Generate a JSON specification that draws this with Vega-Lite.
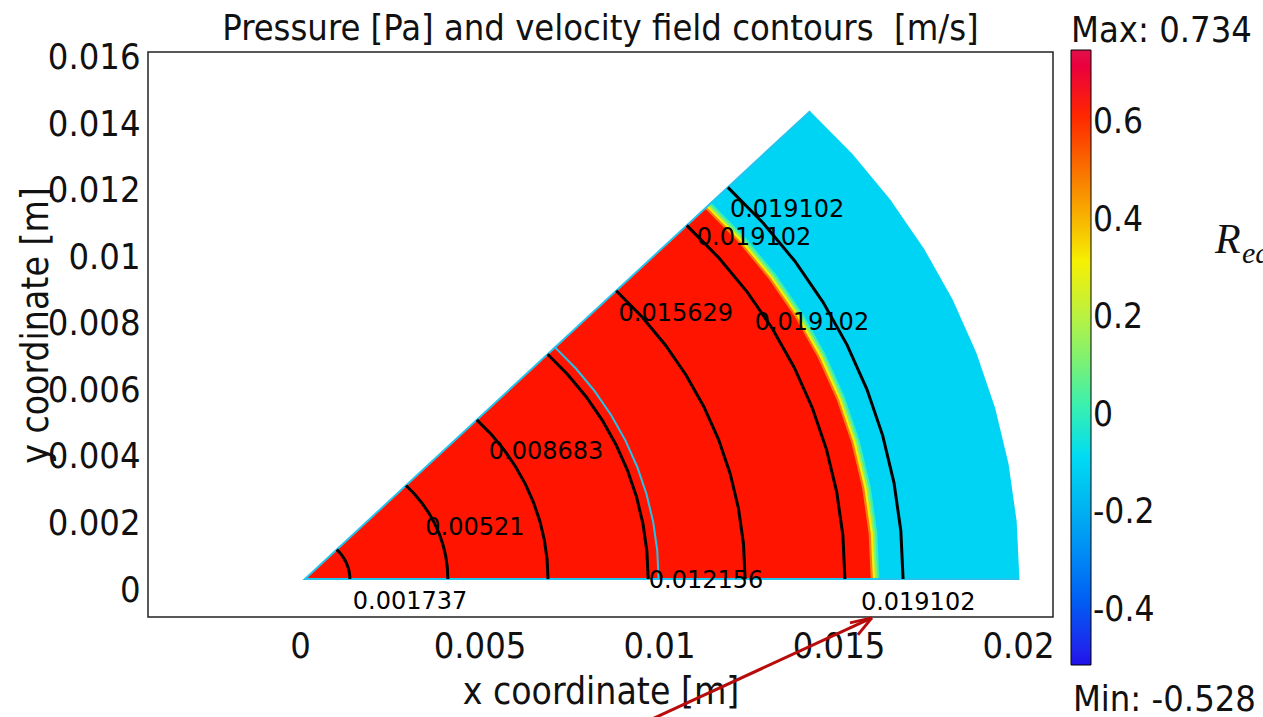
{
  "$schema": "https://vega.github.io/schema/vega-lite/v6.json",
  "width": 905,
  "height": 565,
  "autosize": {"type": "none"},
  "padding": {"left": 148, "top": 52, "right": 210, "bottom": 100},
  "background": "white",
  "title": {
    "text": "Pressure [Pa] and velocity field contours \u00a0[m/s]",
    "font": "DejaVu Sans Condensed, DejaVu Sans",
    "fontSize": 36,
    "fontWeight": "normal",
    "color": "#111",
    "anchor": "middle",
    "frame": "group",
    "baseline": "alphabetic",
    "offset": 10,
    "dy": 72,
    "limit": 1000
  },
  "datasets": {
    "yticks": [
      {"y": 0}, {"y": 0.002}, {"y": 0.004}, {"y": 0.006}, {"y": 0.008},
      {"y": 0.01}, {"y": 0.012}, {"y": 0.014}, {"y": 0.016}
    ],
    "sectors": [
      {"g": "s1", "v": -0.12, "x": 0, "y": 0},
      {"g": "s1", "v": -0.12, "x": 0.014071, "y": 0.014071},
      {"g": "s1", "v": -0.12, "x": 0.015244, "y": 0.012792},
      {"g": "s1", "v": -0.12, "x": 0.016301, "y": 0.011414},
      {"g": "s1", "v": -0.12, "x": 0.017234, "y": 0.00995},
      {"g": "s1", "v": -0.12, "x": 0.018036, "y": 0.00841},
      {"g": "s1", "v": -0.12, "x": 0.0187, "y": 0.006806},
      {"g": "s1", "v": -0.12, "x": 0.019222, "y": 0.005151},
      {"g": "s1", "v": -0.12, "x": 0.019598, "y": 0.003456},
      {"g": "s1", "v": -0.12, "x": 0.019824, "y": 0.001734},
      {"g": "s1", "v": -0.12, "x": 0.0199, "y": 0},
      {"g": "s2", "v": 0.0, "x": 0, "y": 0},
      {"g": "s2", "v": 0.0, "x": 0.011314, "y": 0.011314},
      {"g": "s2", "v": 0.0, "x": 0.012257, "y": 0.010285},
      {"g": "s2", "v": 0.0, "x": 0.013106, "y": 0.009177},
      {"g": "s2", "v": 0.0, "x": 0.013856, "y": 0.008},
      {"g": "s2", "v": 0.0, "x": 0.014501, "y": 0.006762},
      {"g": "s2", "v": 0.0, "x": 0.015035, "y": 0.005472},
      {"g": "s2", "v": 0.0, "x": 0.015455, "y": 0.004141},
      {"g": "s2", "v": 0.0, "x": 0.015757, "y": 0.002778},
      {"g": "s2", "v": 0.0, "x": 0.015939, "y": 0.001395},
      {"g": "s2", "v": 0.0, "x": 0.016, "y": 0},
      {"g": "s3", "v": 0.12, "x": 0, "y": 0},
      {"g": "s3", "v": 0.12, "x": 0.011271, "y": 0.011271},
      {"g": "s3", "v": 0.12, "x": 0.01221, "y": 0.010246},
      {"g": "s3", "v": 0.12, "x": 0.013057, "y": 0.009143},
      {"g": "s3", "v": 0.12, "x": 0.013805, "y": 0.00797},
      {"g": "s3", "v": 0.12, "x": 0.014447, "y": 0.006737},
      {"g": "s3", "v": 0.12, "x": 0.014979, "y": 0.005452},
      {"g": "s3", "v": 0.12, "x": 0.015397, "y": 0.004126},
      {"g": "s3", "v": 0.12, "x": 0.015698, "y": 0.002768},
      {"g": "s3", "v": 0.12, "x": 0.015879, "y": 0.001389},
      {"g": "s3", "v": 0.12, "x": 0.01594, "y": 0},
      {"g": "s4", "v": 0.3, "x": 0, "y": 0},
      {"g": "s4", "v": 0.3, "x": 0.011229, "y": 0.011229},
      {"g": "s4", "v": 0.3, "x": 0.012165, "y": 0.010208},
      {"g": "s4", "v": 0.3, "x": 0.013008, "y": 0.009108},
      {"g": "s4", "v": 0.3, "x": 0.013753, "y": 0.00794},
      {"g": "s4", "v": 0.3, "x": 0.014392, "y": 0.006711},
      {"g": "s4", "v": 0.3, "x": 0.014922, "y": 0.005431},
      {"g": "s4", "v": 0.3, "x": 0.015339, "y": 0.00411},
      {"g": "s4", "v": 0.3, "x": 0.015639, "y": 0.002758},
      {"g": "s4", "v": 0.3, "x": 0.015819, "y": 0.001384},
      {"g": "s4", "v": 0.3, "x": 0.01588, "y": 0},
      {"g": "s5", "v": 0.45, "x": 0, "y": 0},
      {"g": "s5", "v": 0.45, "x": 0.011186, "y": 0.011186},
      {"g": "s5", "v": 0.45, "x": 0.012119, "y": 0.010169},
      {"g": "s5", "v": 0.45, "x": 0.012959, "y": 0.009074},
      {"g": "s5", "v": 0.45, "x": 0.013701, "y": 0.00791},
      {"g": "s5", "v": 0.45, "x": 0.014338, "y": 0.006686},
      {"g": "s5", "v": 0.45, "x": 0.014866, "y": 0.005411},
      {"g": "s5", "v": 0.45, "x": 0.015281, "y": 0.004095},
      {"g": "s5", "v": 0.45, "x": 0.01558, "y": 0.002747},
      {"g": "s5", "v": 0.45, "x": 0.01576, "y": 0.001379},
      {"g": "s5", "v": 0.45, "x": 0.01582, "y": 0},
      {"g": "s6", "v": 0.611, "x": 0, "y": 0},
      {"g": "s6", "v": 0.611, "x": 0.011144, "y": 0.011144},
      {"g": "s6", "v": 0.611, "x": 0.012073, "y": 0.01013},
      {"g": "s6", "v": 0.611, "x": 0.01291, "y": 0.00904},
      {"g": "s6", "v": 0.611, "x": 0.013649, "y": 0.00788},
      {"g": "s6", "v": 0.611, "x": 0.014283, "y": 0.006661},
      {"g": "s6", "v": 0.611, "x": 0.01481, "y": 0.00539},
      {"g": "s6", "v": 0.611, "x": 0.015223, "y": 0.004079},
      {"g": "s6", "v": 0.611, "x": 0.015521, "y": 0.002737},
      {"g": "s6", "v": 0.611, "x": 0.0157, "y": 0.001374},
      {"g": "s6", "v": 0.611, "x": 0.01576, "y": 0}
    ],
    "lines": [
      {"g": "edge", "i": 0, "x": 0.0199, "y": 0},
      {"g": "edge", "i": 1, "x": 0, "y": 0},
      {"g": "edge", "i": 2, "x": 0.014071, "y": 0.014071},
      {"g": "c8", "i": 0, "x": 0.006965, "y": 0.006965},
      {"g": "c8", "i": 1, "x": 0.007545, "y": 0.006331},
      {"g": "c8", "i": 2, "x": 0.008069, "y": 0.00565},
      {"g": "c8", "i": 3, "x": 0.00853, "y": 0.004925},
      {"g": "c8", "i": 4, "x": 0.008927, "y": 0.004163},
      {"g": "c8", "i": 5, "x": 0.009256, "y": 0.003369},
      {"g": "c8", "i": 6, "x": 0.009514, "y": 0.002549},
      {"g": "c8", "i": 7, "x": 0.0097, "y": 0.00171},
      {"g": "c8", "i": 8, "x": 0.009812, "y": 0.000859},
      {"g": "c8", "i": 9, "x": 0.00985, "y": 0},
      {"g": "c1", "i": 0, "x": 0.000884, "y": 0.000884},
      {"g": "c1", "i": 1, "x": 0.000958, "y": 0.000803},
      {"g": "c1", "i": 2, "x": 0.001024, "y": 0.000717},
      {"g": "c1", "i": 3, "x": 0.001083, "y": 0.000625},
      {"g": "c1", "i": 4, "x": 0.001133, "y": 0.000528},
      {"g": "c1", "i": 5, "x": 0.001175, "y": 0.000428},
      {"g": "c1", "i": 6, "x": 0.001207, "y": 0.000324},
      {"g": "c1", "i": 7, "x": 0.001231, "y": 0.000217},
      {"g": "c1", "i": 8, "x": 0.001245, "y": 0.000109},
      {"g": "c1", "i": 9, "x": 0.00125, "y": 0},
      {"g": "c2", "i": 0, "x": 0.002814, "y": 0.002814},
      {"g": "c2", "i": 1, "x": 0.003049, "y": 0.002558},
      {"g": "c2", "i": 2, "x": 0.00326, "y": 0.002283},
      {"g": "c2", "i": 3, "x": 0.003447, "y": 0.00199},
      {"g": "c2", "i": 4, "x": 0.003607, "y": 0.001682},
      {"g": "c2", "i": 5, "x": 0.00374, "y": 0.001361},
      {"g": "c2", "i": 6, "x": 0.003844, "y": 0.00103},
      {"g": "c2", "i": 7, "x": 0.00392, "y": 0.000691},
      {"g": "c2", "i": 8, "x": 0.003965, "y": 0.000347},
      {"g": "c2", "i": 9, "x": 0.00398, "y": 0},
      {"g": "c3", "i": 0, "x": 0.004787, "y": 0.004787},
      {"g": "c3", "i": 1, "x": 0.005186, "y": 0.004352},
      {"g": "c3", "i": 2, "x": 0.005546, "y": 0.003883},
      {"g": "c3", "i": 3, "x": 0.005863, "y": 0.003385},
      {"g": "c3", "i": 4, "x": 0.006136, "y": 0.002861},
      {"g": "c3", "i": 5, "x": 0.006362, "y": 0.002315},
      {"g": "c3", "i": 6, "x": 0.006539, "y": 0.001752},
      {"g": "c3", "i": 7, "x": 0.006667, "y": 0.001176},
      {"g": "c3", "i": 8, "x": 0.006744, "y": 0.00059},
      {"g": "c3", "i": 9, "x": 0.00677, "y": 0},
      {"g": "c4", "i": 0, "x": 0.00676, "y": 0.00676},
      {"g": "c4", "i": 1, "x": 0.007323, "y": 0.006145},
      {"g": "c4", "i": 2, "x": 0.007831, "y": 0.005483},
      {"g": "c4", "i": 3, "x": 0.008279, "y": 0.00478},
      {"g": "c4", "i": 4, "x": 0.008664, "y": 0.00404},
      {"g": "c4", "i": 5, "x": 0.008983, "y": 0.00327},
      {"g": "c4", "i": 6, "x": 0.009234, "y": 0.002474},
      {"g": "c4", "i": 7, "x": 0.009415, "y": 0.00166},
      {"g": "c4", "i": 8, "x": 0.009524, "y": 0.000833},
      {"g": "c4", "i": 9, "x": 0.00956, "y": 0},
      {"g": "c5", "i": 0, "x": 0.008669, "y": 0.008669},
      {"g": "c5", "i": 1, "x": 0.009392, "y": 0.007881},
      {"g": "c5", "i": 2, "x": 0.010043, "y": 0.007032},
      {"g": "c5", "i": 3, "x": 0.010617, "y": 0.00613},
      {"g": "c5", "i": 4, "x": 0.011111, "y": 0.005181},
      {"g": "c5", "i": 5, "x": 0.011521, "y": 0.004193},
      {"g": "c5", "i": 6, "x": 0.011842, "y": 0.003173},
      {"g": "c5", "i": 7, "x": 0.012074, "y": 0.002129},
      {"g": "c5", "i": 8, "x": 0.012213, "y": 0.001069},
      {"g": "c5", "i": 9, "x": 0.01226, "y": 0},
      {"g": "c6", "i": 0, "x": 0.010635, "y": 0.010635},
      {"g": "c6", "i": 1, "x": 0.011521, "y": 0.009668},
      {"g": "c6", "i": 2, "x": 0.01232, "y": 0.008627},
      {"g": "c6", "i": 3, "x": 0.013025, "y": 0.00752},
      {"g": "c6", "i": 4, "x": 0.013631, "y": 0.006356},
      {"g": "c6", "i": 5, "x": 0.014133, "y": 0.005144},
      {"g": "c6", "i": 6, "x": 0.014528, "y": 0.003893},
      {"g": "c6", "i": 7, "x": 0.014812, "y": 0.002612},
      {"g": "c6", "i": 8, "x": 0.014983, "y": 0.001311},
      {"g": "c6", "i": 9, "x": 0.01504, "y": 0},
      {"g": "c7", "i": 0, "x": 0.01178, "y": 0.01178},
      {"g": "c7", "i": 1, "x": 0.012762, "y": 0.010709},
      {"g": "c7", "i": 2, "x": 0.013647, "y": 0.009556},
      {"g": "c7", "i": 3, "x": 0.014428, "y": 0.00833},
      {"g": "c7", "i": 4, "x": 0.015099, "y": 0.007041},
      {"g": "c7", "i": 5, "x": 0.015655, "y": 0.005698},
      {"g": "c7", "i": 6, "x": 0.016092, "y": 0.004312},
      {"g": "c7", "i": 7, "x": 0.016407, "y": 0.002893},
      {"g": "c7", "i": 8, "x": 0.016597, "y": 0.001452},
      {"g": "c7", "i": 9, "x": 0.01666, "y": 0}
    ],
    "labels": [
      {"t": "0.001737", "x": 0.002925, "y": -0.000692},
      {"t": "0.00521", "x": 0.004735, "y": 0.001534},
      {"t": "0.008683", "x": 0.006713, "y": 0.00382},
      {"t": "0.012156", "x": 0.01117, "y": -0.00006},
      {"t": "0.015629", "x": 0.01033, "y": 0.00797},
      {"t": "0.019102", "x": 0.01412, "y": 0.0077},
      {"t": "0.019102", "x": 0.01251, "y": 0.010256},
      {"t": "0.019102", "x": 0.01343, "y": 0.0111},
      {"t": "0.019102", "x": 0.01708, "y": -0.00072}
    ],
    "arrow": [
      {"x": 0.00961, "y": -0.00424, "x2": 0.01579, "y2": -0.00117},
      {"x": 0.01579, "y": -0.00117, "x2": 0.01518, "y2": -0.00132},
      {"x": 0.01579, "y": -0.00117, "x2": 0.0154, "y2": -0.00168}
    ],
    "minnote": [{"t": "Min: -0.528", "x": 0.02139, "y": -0.00397}],
    "rnote": [{"t": "R", "x": 0.02535, "y": 0.009805}],
    "eqnote": [{"t": "eq", "x": 0.0261, "y": 0.0095}]
  },
  "encoding": {
    "x": {
      "field": "x", "type": "quantitative",
      "scale": {"domain": [-0.004373, 0.020836], "nice": false, "zero": false},
      "axis": {
        "values": [0, 0.005, 0.01, 0.015, 0.02],
        "labelExpr": "'' + datum.value",
        "labelOffset": -5,
        "labelPadding": 12,
        "labelFlush": false,
        "labelOverlap": false,
        "title": "x coordinate [m]",
        "titlePadding": 10
      }
    },
    "y": {
      "field": "y", "type": "quantitative",
      "scale": {"domain": [-0.001143, 0.01585], "nice": false, "zero": false},
      "axis": null
    }
  },
  "resolve": {"scale": {"y": "independent"}},
  "layer": [
    {
      "data": {"name": "yticks"},
      "mark": {"type": "point", "opacity": 0},
      "encoding": {
        "x": {"datum": 0, "type": "quantitative"},
        "y": {
          "field": "y", "type": "quantitative",
          "scale": {"domain": [-0.000812, 0.01618], "nice": false, "zero": false},
          "axis": {
            "orient": "left",
            "values": [0, 0.002, 0.004, 0.006, 0.008, 0.01, 0.012, 0.014, 0.016],
            "labelExpr": "'' + datum.value",
            "labelPadding": 8,
            "labelFlush": false,
            "labelOverlap": false,
            "title": "y coordinate [m]",
            "titlePadding": -8,
            "titleY": 273
          }
        }
      }
    },
    {
      "data": {"name": "sectors"},
      "encoding": {
        "y2": {"datum": 0},
        "color": {
          "field": "v", "type": "quantitative",
          "scale": {
            "domain": [-0.528, -0.477, -0.354, -0.211, -0.067, 0.015, 0.128, 0.221, 0.303, 0.395, 0.447, 0.611, 0.734],
            "range": ["#2010E8", "#2030F0", "#2070F0", "#10B0F0", "#10E8F0", "#50F0A0", "#90F060", "#D0F030", "#F8F000", "#F8B000", "#F88010", "#FF1400", "#E0104A"]
          },
          "legend": {
            "orient": "none",
            "legendX": 923,
            "legendY": -38,
            "direction": "vertical",
            "gradientLength": 615,
            "gradientThickness": 20,
            "gradientStrokeColor": "#000",
            "gradientStrokeWidth": 1,
            "values": [-0.4, -0.2, 0, 0.2, 0.4, 0.6],
            "labelExpr": "'' + datum.value",
            "labelOffset": 2,
            "labelOverlap": false,
            "labelLimit": 300,
            "labelFont": "DejaVu Sans Condensed, DejaVu Sans",
            "labelFontSize": 35,
            "labelColor": "#111",
            "title": "Max: 0.734",
            "titleFont": "DejaVu Sans Condensed, DejaVu Sans",
            "titleFontSize": 36,
            "titleFontWeight": "normal",
            "titleColor": "#111",
            "titleAnchor": "start",
            "titleLimit": 400,
            "titlePadding": 0,
            "padding": 0,
            "encode": {"labels": {"update": {"dy": {"value": 7}}}}
          }
        }
      },
      "layer": [
        {"transform": [{"filter": "datum.g === 's1'"}], "mark": {"type": "area"}},
        {"transform": [{"filter": "datum.g === 's2'"}], "mark": {"type": "area"}},
        {"transform": [{"filter": "datum.g === 's3'"}], "mark": {"type": "area"}},
        {"transform": [{"filter": "datum.g === 's4'"}], "mark": {"type": "area"}},
        {"transform": [{"filter": "datum.g === 's5'"}], "mark": {"type": "area"}},
        {"transform": [{"filter": "datum.g === 's6'"}], "mark": {"type": "area"}}
      ]
    },
    {
      "data": {"name": "lines"},
      "transform": [{"filter": "datum.g === 'edge' || datum.g === 'c8'"}],
      "mark": {"type": "line", "color": "#22C4EE", "strokeWidth": 2},
      "encoding": {"detail": {"field": "g"}, "order": {"field": "i", "type": "quantitative"}}
    },
    {
      "data": {"name": "lines"},
      "transform": [{"filter": "datum.g !== 'edge' && datum.g !== 'c8'"}],
      "mark": {"type": "line", "color": "#000", "strokeWidth": 3},
      "encoding": {"detail": {"field": "g"}, "order": {"field": "i", "type": "quantitative"}}
    },
    {
      "data": {"name": "labels"},
      "mark": {"type": "text", "font": "DejaVu Sans", "fontSize": 24, "color": "#000", "align": "center", "baseline": "middle"},
      "encoding": {"text": {"field": "t"}}
    },
    {
      "data": {"name": "arrow"},
      "mark": {"type": "rule", "color": "#B80C0C", "strokeWidth": 3},
      "encoding": {"x2": {"field": "x2"}, "y2": {"field": "y2"}}
    },
    {
      "data": {"name": "minnote"},
      "mark": {"type": "text", "font": "DejaVu Sans Condensed, DejaVu Sans", "fontSize": 36, "color": "#111", "align": "left", "baseline": "alphabetic"},
      "encoding": {"text": {"field": "t"}}
    },
    {
      "data": {"name": "rnote"},
      "mark": {"type": "text", "font": "Liberation Serif", "fontStyle": "italic", "fontSize": 42, "color": "#111", "align": "left", "baseline": "alphabetic"},
      "encoding": {"text": {"field": "t"}}
    },
    {
      "data": {"name": "eqnote"},
      "mark": {"type": "text", "font": "Liberation Serif", "fontStyle": "italic", "fontSize": 30, "color": "#111", "align": "left", "baseline": "alphabetic"},
      "encoding": {"text": {"field": "t"}}
    }
  ],
  "config": {
    "view": {"stroke": "#222", "strokeWidth": 1.5},
    "axis": {
      "labelFont": "DejaVu Sans Condensed, DejaVu Sans",
      "labelFontSize": 36,
      "labelColor": "#111",
      "titleFont": "DejaVu Sans Condensed, DejaVu Sans",
      "titleFontSize": 37,
      "titleFontWeight": "normal",
      "titleColor": "#111",
      "ticks": false,
      "domain": false,
      "grid": false
    }
  }
}
